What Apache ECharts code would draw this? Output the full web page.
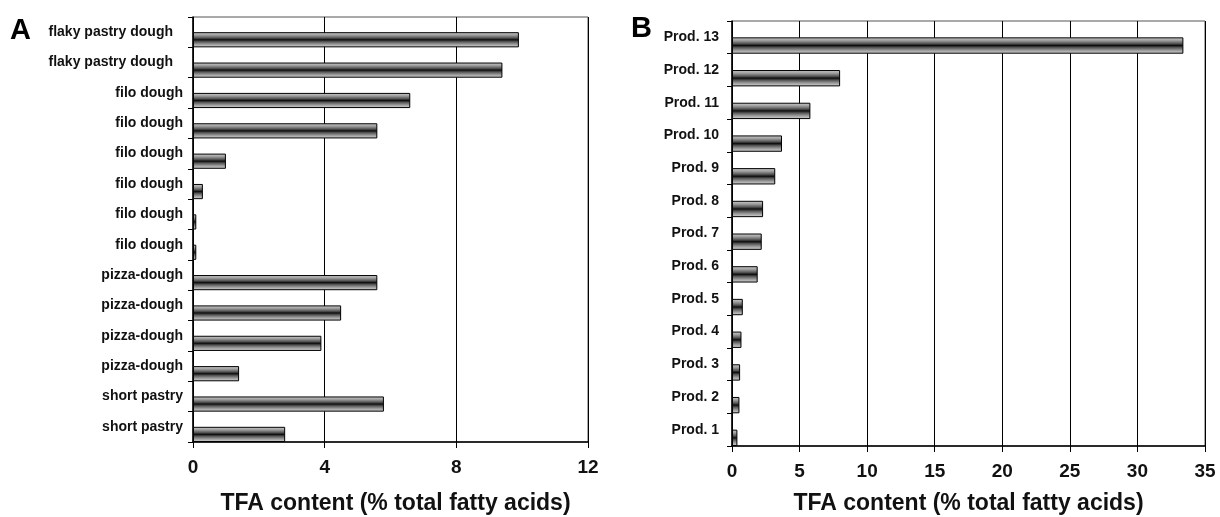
<!DOCTYPE html>
<html><head><meta charset="utf-8">
<script src="https://cdn.jsdelivr.net/npm/echarts@6/dist/echarts.min.js"></script>
<style>html,body{margin:0;padding:0;background:#fff}#c{width:1220px;height:517px}</style>
</head><body><div id="c"></div>
<script>
// Panel A (top to bottom)
const leftCategories = ['flaky pastry dough','flaky pastry dough','filo dough','filo dough','filo dough','filo dough','filo dough','filo dough','pizza-dough','pizza-dough','pizza-dough','pizza-dough','short pastry','short pastry'];
const leftValues = [9.9, 9.4, 6.6, 5.6, 1.0, 0.3, 0.1, 0.1, 5.6, 4.5, 3.9, 1.4, 5.8, 2.8];
// Panel B (top to bottom)
const rightCategories = ['Prod. 13','Prod. 12','Prod. 11','Prod. 10','Prod. 9','Prod. 8','Prod. 7','Prod. 6','Prod. 5','Prod. 4','Prod. 3','Prod. 2','Prod. 1'];
const rightValues = [33.4, 8.0, 5.8, 3.7, 3.2, 2.3, 2.2, 1.9, 0.8, 0.7, 0.6, 0.55, 0.4];
const leftAxisRange = {min: 0, max: 12, interval: 4};
const rightAxisRange = {min: 0, max: 35, interval: 5};
const axisTitle = 'TFA content (% total fatty acids)';
const panelLetters = ['A', 'B'];

const FONT = "'Liberation Sans', Arial, sans-serif";
const barFill = {
  type: 'linear', x: 0, y: 0, x2: 0, y2: 1,
  colorStops: [
    {offset: 0, color: '#d0d0d0'},
    {offset: 0.2, color: '#9c9c9c'},
    {offset: 0.38, color: '#555'},
    {offset: 0.5, color: '#0d0d0d'},
    {offset: 0.62, color: '#555'},
    {offset: 0.8, color: '#9c9c9c'},
    {offset: 1, color: '#dadada'}
  ]
};

function xAxisFor(gridIndex, range, nameGap, margin, namePad) {
  return {
    type: 'value', gridIndex, min: range.min, max: range.max, interval: range.interval,
    name: axisTitle, nameLocation: 'middle', nameGap,
    nameTextStyle: {fontFamily: FONT, fontWeight: 'bold', fontSize: 23, color: '#111', padding: namePad},
    axisLine: {show: true, lineStyle: {color: '#000', width: 1.5}},
    axisTick: {show: true, length: 6, lineStyle: {color: '#000', width: 1}},
    axisLabel: {fontFamily: FONT, fontWeight: 'bold', fontSize: 19, color: '#111', margin},
    splitLine: {show: true, lineStyle: {color: '#000', width: 1}}
  };
}
function yAxisFor(gridIndex, cats, margin, formatter, rich) {
  return {
    type: 'category', gridIndex, data: cats, inverse: true,
    axisLine: {show: true, lineStyle: {color: '#000', width: 1.5}},
    axisTick: {show: true, length: 5, lineStyle: {color: '#000', width: 1}},
    axisLabel: {fontFamily: FONT, fontWeight: 'bold', fontSize: 14, color: '#111', margin, interval: 0, formatter, rich},
    splitLine: {show: false}
  };
}
function barSeries(axisIdx, data) {
  return [
    {type: 'bar', xAxisIndex: axisIdx, yAxisIndex: axisIdx, data: data.map(() => null), barGap: '0%', barCategoryGap: '0%', silent: true},
    {type: 'bar', xAxisIndex: axisIdx, yAxisIndex: axisIdx, data: data, barGap: '0%', barCategoryGap: '0%',
     itemStyle: {color: barFill, borderColor: '#000', borderWidth: 1}}
  ];
}

const chart = echarts.init(document.getElementById('c'), null, {renderer: 'canvas'});
chart.setOption({
  animation: false,
  backgroundColor: '#fff',
  grid: [
    {left: 193, right: 632, top: 17, bottom: 75, show: true, borderColor: '#555', borderWidth: 1, containLabel: false, outerBoundsMode: 'none'},
    {left: 732, right: 15, top: 21, bottom: 71, show: true, borderColor: '#555', borderWidth: 1, containLabel: false, outerBoundsMode: 'none'}
  ],
  xAxis: [xAxisFor(0, leftAxisRange, 50, 16, [0, 0, 0, 10]), xAxisFor(1, rightAxisRange, 46, 16, [0, 0, 0, 0])],
  yAxis: [
    yAxisFor(0, leftCategories, 10, v => v.indexOf('flaky') === 0 ? '{f|' + v + '}' : v,
      {f: {fontFamily: FONT, fontWeight: 'bold', fontSize: 14, color: '#111', padding: [0, 10, 0, 0]}}),
    yAxisFor(1, rightCategories, 13)
  ],
  series: [...barSeries(0, leftValues), ...barSeries(1, rightValues)],
  graphic: [
    {type: 'text', left: 10, top: 16, style: {text: panelLetters[0], font: "bold 29px 'Liberation Sans', Arial, sans-serif", fill: '#000'}},
    {type: 'text', left: 631, top: 14, style: {text: panelLetters[1], font: "bold 29px 'Liberation Sans', Arial, sans-serif", fill: '#000'}}
  ]
});
</script></body></html>
